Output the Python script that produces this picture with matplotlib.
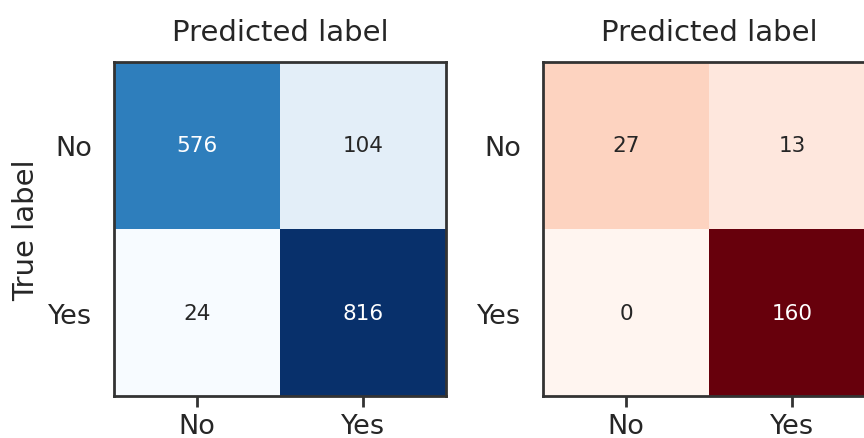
import matplotlib
matplotlib.use("Agg")
import matplotlib.pyplot as plt
import numpy as np

labels = ["No", "Yes"]
cm_left = [[576, 104], [24, 816]]
cm_right = [[27, 13], [0, 160]]

plt.rcParams['font.family'] = ['DejaVu Sans']
TXT = "#262626"

fig = plt.figure(figsize=(8.64, 4.39), dpi=100)
ax1 = fig.add_axes([114/864, 1-397/439, 332/864, 334/439])
ax2 = fig.add_axes([543/864, 1-397/439, 332/864, 334/439])

def draw(ax, cm, cmap, ylabel):
    cm = np.array(cm)
    ax.imshow(cm, cmap=cmap, interpolation="nearest", aspect="auto")
    thresh = cm.max() / 2.0
    for i in range(cm.shape[0]):
        for j in range(cm.shape[1]):
            ax.text(j, i, str(cm[i, j]), ha="center", va="center", fontsize=15.5,
                    color="white" if cm[i, j] > thresh else TXT)
    ax.set_xticks(range(len(labels)))
    ax.set_yticks(range(len(labels)))
    ax.set_xticklabels(labels, fontsize=19.5, color=TXT)
    ax.set_yticklabels(labels, fontsize=19.5, color=TXT)
    ax.tick_params(axis="x", length=8, width=2, color="#333333", pad=4)
    ax.tick_params(axis="y", length=0, pad=15.5)
    ax.set_xlabel("Predicted label", fontsize=21, color=TXT, labelpad=16)
    ax.xaxis.set_label_position("top")
    if ylabel:
        ax.set_ylabel("True label", fontsize=21, color=TXT, labelpad=6)
    for s in ax.spines.values():
        s.set_color("#333333")
        s.set_linewidth(2)

draw(ax1, cm_left, "Blues", True)
draw(ax2, cm_right, "Reds", False)

fig.savefig("out.png", dpi=100)
